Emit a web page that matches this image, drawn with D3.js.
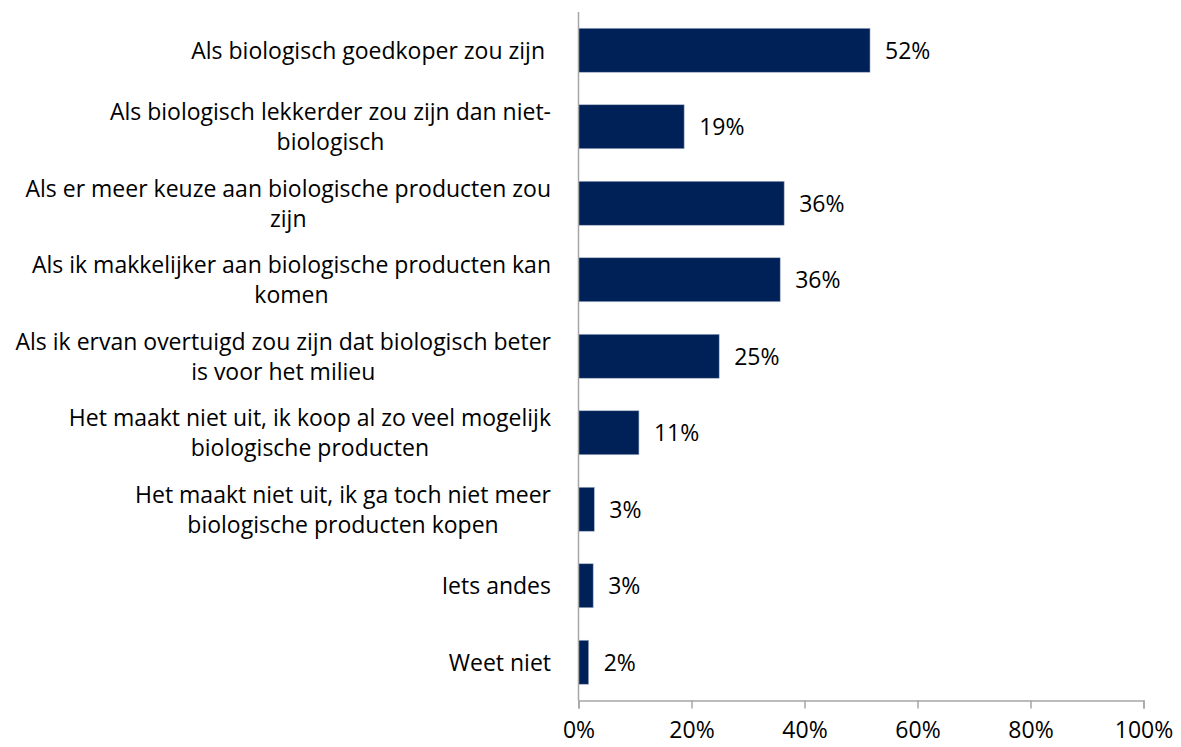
<!DOCTYPE html>
<html><head><meta charset="utf-8">
<script src="https://cdn.jsdelivr.net/npm/d3@7"></script>
<style>body{margin:0;background:#fff}</style>
</head><body>
<svg id="c" width="1181" height="747"></svg>
<script>
const categories = [
  ["Als biologisch goedkoper zou zijn\u00a0"],
  ["Als biologisch lekkerder zou zijn dan niet-", "biologisch"],
  ["Als er meer keuze aan biologische producten zou", "zijn"],
  ["Als ik makkelijker aan biologische producten kan", "komen"],
  ["Als ik ervan overtuigd zou zijn dat biologisch beter", "is voor het milieu"],
  ["Het maakt niet uit, ik koop al zo veel mogelijk", "biologische producten"],
  ["Het maakt niet uit, ik ga toch niet meer", "biologische producten kopen"],
  ["Iets andes"],
  ["Weet niet"]
];
const values = [51.6, 18.7, 36.4, 35.7, 24.9, 10.7, 2.8, 2.6, 1.8];
const valueLabels = ["52%", "19%", "36%", "36%", "25%", "11%", "3%", "3%", "2%"];
const xTicks = [0, 20, 40, 60, 80, 100];

const svg = d3.select("#c");
const font = "'Open Sans', 'Noto Sans', sans-serif";
const fs = 23;
const x = d3.scaleLinear().domain([0, 100]).range([578.5, 1143.5]);
const y = d3.scaleBand().domain(d3.range(categories.length)).range([12, 700.5])
  .paddingInner(0.425).paddingOuter(0.2125);

svg.selectAll("rect.bar").data(values).join("rect").attr("class", "bar")
  .attr("x", x(0)).attr("y", (d, i) => y(i))
  .attr("width", d => x(d) - x(0)).attr("height", y.bandwidth())
  .attr("fill", "#002157").attr("stroke", "#a9b6cc").attr("stroke-width", 0.6);

const xAxis = svg.append("g").attr("transform", "translate(0,700.5)")
  .call(d3.axisBottom(x).tickValues(xTicks).tickFormat(d => d + "%").tickSizeOuter(0).tickSize(8).tickPadding(13));
xAxis.select(".domain").attr("stroke", "#a6a6a6").attr("stroke-width", 1.5);
xAxis.selectAll(".tick line").attr("stroke", "#a6a6a6").attr("stroke-width", 1.5);
xAxis.selectAll(".tick text").attr("font-family", font).attr("font-size", fs).attr("fill", "#000");

svg.append("line").attr("x1", x(0)).attr("x2", x(0)).attr("y1", 12).attr("y2", 700.5)
  .attr("stroke", "#a6a6a6").attr("stroke-width", 1.5);

svg.selectAll("text.val").data(values).join("text").attr("class", "val")
  .attr("x", d => x(d) + 15).attr("y", (d, i) => y(i) + y.bandwidth() / 2)
  .attr("dy", "0.36em").attr("font-family", font).attr("font-size", fs).attr("fill", "#000")
  .text((d, i) => valueLabels[i]);

const lh = 30;
const rightEdge = 551;
categories.forEach((lines, i) => {
  const cy = y(i) + y.bandwidth() / 2;
  const g = svg.append("g");
  const ts = lines.map((ln, k) => g.append("text")
    .attr("y", cy + (k - (lines.length - 1) / 2) * lh).attr("dy", "0.36em")
    .attr("font-family", font).attr("font-size", fs).attr("fill", "#000")
    .attr("text-anchor", "middle").attr("xml:space", "preserve").text(ln));
  const w = d3.max(ts, t => t.node().getComputedTextLength());
  ts.forEach(t => t.attr("x", rightEdge - w / 2));
});
</script>
</body></html>
